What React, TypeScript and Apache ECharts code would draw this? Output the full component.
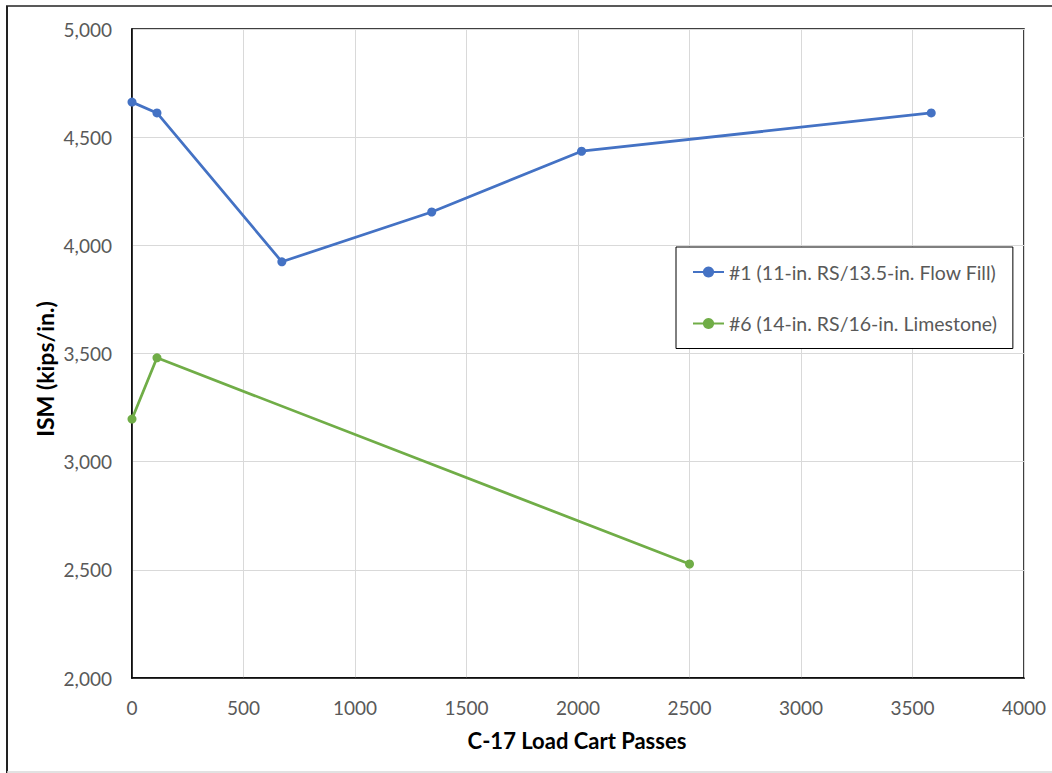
import React, { useEffect, useRef } from "react";
import * as echarts from "echarts";

const seriesNames = ["#1 (11-in. RS/13.5-in. Flow Fill)", "#6 (14-in. RS/16-in. Limestone)"];
const s1Passes = [0, 112, 672, 1344, 2016, 3584];
const s1Ism = [4662, 4612, 3924, 4154, 4435, 4612];
const s6Passes = [0, 112, 2500];
const s6Ism = [3197, 3480, 2527];
const colors = ["#4472C4", "#70AD47"];

const FONT = "Lato, 'Open Sans', sans-serif";

export default function App() {
  const ref = useRef<HTMLDivElement>(null);
  useEffect(() => {
    if (!ref.current) return;
    const chart = echarts.init(ref.current, null, { renderer: "svg" });
    const toPairs = (xs: number[], ys: number[]) => xs.map((x, i) => [x, ys[i]]);
    chart.setOption({
      animation: false,
      backgroundColor: "#fff",
      grid: {
        left: 132,
        top: 29,
        width: 892,
        height: 649,
        show: true,
        borderColor: "#000",
        borderWidth: 1.5,
        containLabel: false,
      },
      xAxis: {
        type: "value",
        min: 0,
        max: 4000,
        interval: 500,
        axisLine: { show: true, lineStyle: { color: "#000", width: 1.5 } },
        axisTick: { show: false },
        splitLine: { show: true, lineStyle: { color: "#d9d9d9", width: 1 } },
        axisLabel: {
          color: "#595959",
          fontSize: 19,
          fontFamily: FONT,
          margin: 20,
          formatter: (v: number) => String(v),
        },
      },
      yAxis: {
        type: "value",
        min: 2000,
        max: 5000,
        interval: 500,
        axisLine: { show: true, lineStyle: { color: "#000", width: 1.5 } },
        axisTick: { show: false },
        splitLine: { show: true, lineStyle: { color: "#d9d9d9", width: 1 } },
        axisLabel: {
          color: "#595959",
          fontSize: 19,
          fontFamily: FONT,
          margin: 20,
          formatter: (v: number) => v.toLocaleString("en-US"),
        },
      },
      legend: {
        orient: "vertical",
        left: 676,
        top: 247,
        padding: [15, 16, 15, 16],
        itemGap: 31.5,
        itemWidth: 31,
        itemHeight: 14,
        borderColor: "#000",
        borderWidth: 1,
        backgroundColor: "#fff",
        textStyle: { color: "#595959", fontSize: 19.5, fontFamily: FONT },
        data: seriesNames,
      },
      graphic: [
        {
          type: "text",
          x: 45,
          y: 369,
          rotation: Math.PI / 2,
          style: {
            text: "ISM (kips/in.)",
            fill: "#000",
            font: `bold 23px ${FONT}`,
            align: "center",
            verticalAlign: "middle",
          },
        },
        {
          type: "text",
          x: 577,
          y: 740,
          style: {
            text: "C-17 Load Cart Passes",
            fill: "#000",
            font: `bold 22px ${FONT}`,
            align: "center",
            verticalAlign: "middle",
          },
        },
        { type: "line", shape: { x1: 6, y1: 6, x2: 1052, y2: 6 }, style: { stroke: "#595959", lineWidth: 2 } },
        { type: "line", shape: { x1: 7, y1: 6, x2: 7, y2: 773 }, style: { stroke: "#222", lineWidth: 2 } },
        { type: "line", shape: { x1: 7, y1: 772, x2: 1052, y2: 772 }, style: { stroke: "#d9d9d9", lineWidth: 1.5 } },
      ],
      series: [
        {
          name: seriesNames[0],
          type: "line",
          data: toPairs(s1Passes, s1Ism),
          symbol: "circle",
          symbolSize: 9,
          lineStyle: { color: colors[0], width: 2.75 },
          itemStyle: { color: colors[0] },
        },
        {
          name: seriesNames[1],
          type: "line",
          data: toPairs(s6Passes, s6Ism),
          symbol: "circle",
          symbolSize: 9,
          lineStyle: { color: colors[1], width: 2.75 },
          itemStyle: { color: colors[1] },
        },
      ],
    });
    return () => chart.dispose();
  }, []);
  return (
    <div
      ref={ref}
      style={{ position: "fixed", left: 0, top: 0, width: 1052, height: 773, background: "#fff" }}
    />
  );
}
